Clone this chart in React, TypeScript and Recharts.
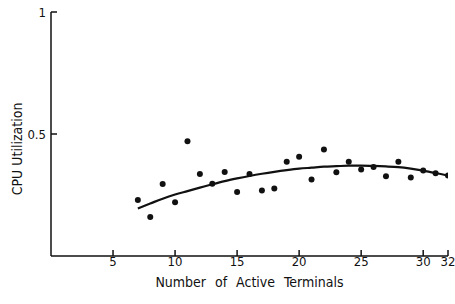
import React from 'react';
import { ComposedChart, Scatter, Line, XAxis, YAxis, Label } from 'recharts';

// measured CPU utilization per number of active terminals
const terminals = [7, 8, 9, 10, 11, 12, 13, 14, 15, 16, 17, 18, 19, 20, 21, 22, 23, 24, 25, 26, 27, 28, 29, 30, 31, 32];
const measured = [0.23, 0.16, 0.295, 0.22, 0.47, 0.336, 0.296, 0.344, 0.262, 0.336, 0.268, 0.277, 0.386, 0.407, 0.314, 0.436, 0.343, 0.386, 0.354, 0.365, 0.327, 0.386, 0.322, 0.35, 0.339, 0.33];
// fitted curve
const fitted = [0.195, 0.215, 0.235, 0.252, 0.266, 0.28, 0.294, 0.307, 0.318, 0.328, 0.337, 0.345, 0.352, 0.358, 0.362, 0.366, 0.368, 0.37, 0.37, 0.369, 0.367, 0.364, 0.358, 0.35, 0.34, 0.329];

const xTicks = [5, 10, 15, 20, 25, 30, 32];
const yTicks = [0.5, 1];

const font = '"DejaVu Sans Condensed", "Liberation Sans Narrow", sans-serif';
const ink = '#111';

const points = terminals.map((x, i) => ({ x, y: measured[i] }));
const curve = terminals.map((x, i) => ({ x, y: fitted[i] }));

const YTitle = (props: any) => {
  const { viewBox } = props;
  const cx = viewBox.x + 6;
  const cy = viewBox.y + viewBox.height / 2 + 15;
  return (
    <text x={cx} y={cy} transform={`rotate(-90 ${cx} ${cy})`} textAnchor="middle" dominantBaseline="central"
      fontFamily={font} fontSize={14} fill={ink}>
      CPU Utilization
    </text>
  );
};

const Dot = (props: any) => <circle cx={props.cx} cy={props.cy} r={3} fill={ink} />;

export default function App() {
  return (
    <div style={{ position: 'absolute', left: 0, top: 0, background: '#fff' }}>
      <ComposedChart width={455} height={304} margin={{ top: 12, right: 7, bottom: 0, left: 11 }}>
        <XAxis
          type="number"
          dataKey="x"
          domain={[0, 32]}
          ticks={xTicks}
          allowDataOverflow
          height={48}
          stroke={ink}
          strokeWidth={1.5}
          tickSize={-6}
          tickMargin={7}
          tick={{ fill: ink, fontSize: 13, fontFamily: font }}
        >
          <Label value="Number of Active Terminals" position="insideBottom" offset={17}
            style={{ fill: ink, fontSize: 14, fontFamily: font, wordSpacing: 5 }} />
        </XAxis>
        <YAxis
          type="number"
          dataKey="y"
          domain={[0, 1]}
          ticks={yTicks}
          width={40}
          stroke={ink}
          strokeWidth={1.5}
          tickSize={-6}
          tickMargin={11}
          tick={{ fill: ink, fontSize: 13, fontFamily: font }}
          label={<YTitle />}
        />
        <Line data={curve} dataKey="y" type="monotone" stroke={ink} strokeWidth={2.2} dot={false} isAnimationActive={false} />
        <Scatter data={points} dataKey="y" fill={ink} shape={<Dot />} isAnimationActive={false} />
      </ComposedChart>
    </div>
  );
}
